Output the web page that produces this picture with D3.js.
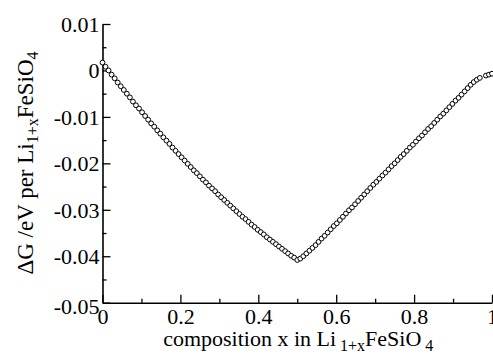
<!DOCTYPE html>
<html>
<head>
<meta charset="utf-8">
<script src="https://cdn.jsdelivr.net/npm/d3@7"></script>
<style>
html,body{margin:0;padding:0;background:#fff;}
svg{display:block;}
svg text{font-family:"Liberation Serif","Times New Roman",Times,serif !important;fill:#000;}
</style>
</head>
<body>
<svg id="chart" width="493" height="356"></svg>
<script>
// composition x (Li_{1+x}FeSiO4)
const compX = [
0.0000,0.0078,0.0156,0.0234,0.0313,0.0391,0.0469,0.0547,0.0625,0.0703,
0.0781,0.0859,0.0938,0.1016,0.1094,0.1172,0.1250,0.1328,0.1406,0.1484,
0.1563,0.1641,0.1719,0.1797,0.1875,0.1953,0.2031,0.2109,0.2188,0.2266,
0.2344,0.2422,0.2500,0.2578,0.2656,0.2734,0.2813,0.2891,0.2969,0.3047,
0.3125,0.3203,0.3281,0.3359,0.3438,0.3516,0.3594,0.3672,0.3750,0.3828,
0.3906,0.3984,0.4063,0.4141,0.4219,0.4297,0.4375,0.4453,0.4531,0.4609,
0.4688,0.4766,0.4844,0.4922,0.5000,0.5078,0.5156,0.5234,0.5313,0.5391,
0.5469,0.5547,0.5625,0.5703,0.5781,0.5859,0.5938,0.6016,0.6094,0.6172,
0.6250,0.6328,0.6406,0.6484,0.6563,0.6641,0.6719,0.6797,0.6875,0.6953,
0.7031,0.7109,0.7188,0.7266,0.7344,0.7422,0.7500,0.7578,0.7656,0.7734,
0.7813,0.7891,0.7969,0.8047,0.8125,0.8203,0.8281,0.8359,0.8438,0.8516,
0.8594,0.8672,0.8750,0.8828,0.8906,0.8984,0.9063,0.9141,0.9219,0.9297,
0.9375,0.9453,0.9531,0.9609,0.9688,0.9844,0.9922,1.0000
];
// Delta G (eV per Li_{1+x}FeSiO4)
const deltaG = [
0.0017,0.0008,0.0000,-0.0009,-0.0017,-0.0026,-0.0034,-0.0042,-0.0050,-0.0058,
-0.0067,-0.0075,-0.0082,-0.0090,-0.0098,-0.0106,-0.0114,-0.0121,-0.0129,-0.0136,
-0.0144,-0.0151,-0.0158,-0.0166,-0.0173,-0.0180,-0.0187,-0.0194,-0.0201,-0.0208,
-0.0215,-0.0221,-0.0228,-0.0235,-0.0241,-0.0248,-0.0254,-0.0260,-0.0267,-0.0273,
-0.0279,-0.0285,-0.0291,-0.0297,-0.0303,-0.0309,-0.0315,-0.0320,-0.0326,-0.0332,
-0.0337,-0.0343,-0.0348,-0.0353,-0.0359,-0.0364,-0.0369,-0.0374,-0.0379,-0.0384,
-0.0389,-0.0394,-0.0399,-0.0403,-0.0408,-0.0405,-0.0400,-0.0394,-0.0388,-0.0382,
-0.0376,-0.0369,-0.0362,-0.0356,-0.0349,-0.0342,-0.0335,-0.0329,-0.0322,-0.0315,
-0.0308,-0.0301,-0.0295,-0.0288,-0.0281,-0.0274,-0.0267,-0.0260,-0.0253,-0.0246,
-0.0240,-0.0233,-0.0226,-0.0220,-0.0213,-0.0206,-0.0200,-0.0193,-0.0186,-0.0180,
-0.0173,-0.0166,-0.0160,-0.0153,-0.0146,-0.0140,-0.0133,-0.0126,-0.0120,-0.0113,
-0.0106,-0.0099,-0.0093,-0.0086,-0.0079,-0.0072,-0.0065,-0.0059,-0.0052,-0.0045,
-0.0038,-0.0031,-0.0025,-0.0020,-0.0016,-0.0011,-0.0009,-0.0007
];
const xMajorTicks = [0, 0.2, 0.4, 0.6, 0.8, 1];
const xMajorLabels = ["0", "0.2", "0.4", "0.6", "0.8", "1"];
const xMinorTicks = [0.1, 0.3, 0.5, 0.7, 0.9];
const yMajorTicks = [0.01, 0, -0.01, -0.02, -0.03, -0.04, -0.05];
const yMajorLabels = ["0.01", "0", "-0.01", "-0.02", "-0.03", "-0.04", "-0.05"];
const yMinorTicks = [0.005, -0.005, -0.015, -0.025, -0.035, -0.045];

const FONT = '"Liberation Serif","Times New Roman",Times,serif';
const svg = d3.select("#chart");
const L = 102.5, R = 492, T = 24, B = 302.7;
const x = d3.scaleLinear().domain([0, 1]).range([L, R]);
const y = d3.scaleLinear().domain([-0.05, 0.01]).range([B, T]);

const fs = 22;
// x axis
const xAxis = d3.axisBottom(x).tickValues(xMajorTicks)
  .tickFormat((d, i) => xMajorLabels[i]).tickSizeInner(-8).tickSizeOuter(0).tickPadding(6);
const gx = svg.append("g").attr("transform", `translate(0,${B})`).call(xAxis)
  .attr("font-family", FONT).attr("font-size", fs);
gx.selectAll("text").style("font-family", FONT).style("font-size", fs + "px");
const gxm = svg.append("g").attr("transform", `translate(0,${B})`)
  .call(d3.axisBottom(x).tickValues(xMinorTicks).tickFormat("").tickSizeInner(-4).tickSizeOuter(0));
gxm.select(".domain").remove();

// y axis
const yAxis = d3.axisLeft(y).tickValues(yMajorTicks)
  .tickFormat((d, i) => yMajorLabels[i]).tickSizeInner(-8).tickSizeOuter(0).tickPadding(3);
const gy = svg.append("g").attr("transform", `translate(${L},0)`).call(yAxis)
  .attr("font-family", FONT).attr("font-size", fs);
gy.selectAll("text").style("font-family", FONT).style("font-size", fs + "px")
  .attr("dy", (d, i) => i === yMajorTicks.length - 1 ? "0.5em" : "0.34em");
const gym = svg.append("g").attr("transform", `translate(${L},0)`)
  .call(d3.axisLeft(y).tickValues(yMinorTicks).tickFormat("").tickSizeInner(-4).tickSizeOuter(0));
gym.select(".domain").remove();

svg.selectAll(".domain").attr("stroke", "#000").attr("stroke-width", 1.6);
svg.selectAll(".tick line").attr("stroke", "#000").attr("stroke-width", 1.3);

// points
const pts = compX.map((c, i) => ({c, g: deltaG[i]}));
svg.append("g").selectAll("circle").data(pts).join("circle")
  .attr("cx", d => x(d.c)).attr("cy", d => y(d.g)).attr("r", 2.4)
  .attr("fill", "#fff").attr("stroke", "#000").attr("stroke-width", 1);

// x title
const xt = svg.append("text").attr("x", (L + R) / 2 + 1).attr("y", 346)
  .attr("text-anchor", "middle").style("font-family", FONT).style("font-size", "22px");
xt.append("tspan").text("composition x in Li");
xt.append("tspan").attr("dy", 5).style("font-size", "16px").text(" 1+x");
xt.append("tspan").attr("dy", -5).text("FeSiO");
xt.append("tspan").attr("dy", 5).style("font-size", "16px").text(" 4");

// y title
const yt = svg.append("text").attr("transform", "translate(33,163) rotate(-90)")
  .attr("text-anchor", "middle").style("font-family", FONT).style("font-size", "23px");
yt.append("tspan").text("\u0394G /eV per Li");
yt.append("tspan").attr("dy", 5).style("font-size", "16px").text("1+x");
yt.append("tspan").attr("dy", -5).text("FeSiO");
yt.append("tspan").attr("dy", 5).style("font-size", "16px").text("4");
</script>
</body>
</html>
